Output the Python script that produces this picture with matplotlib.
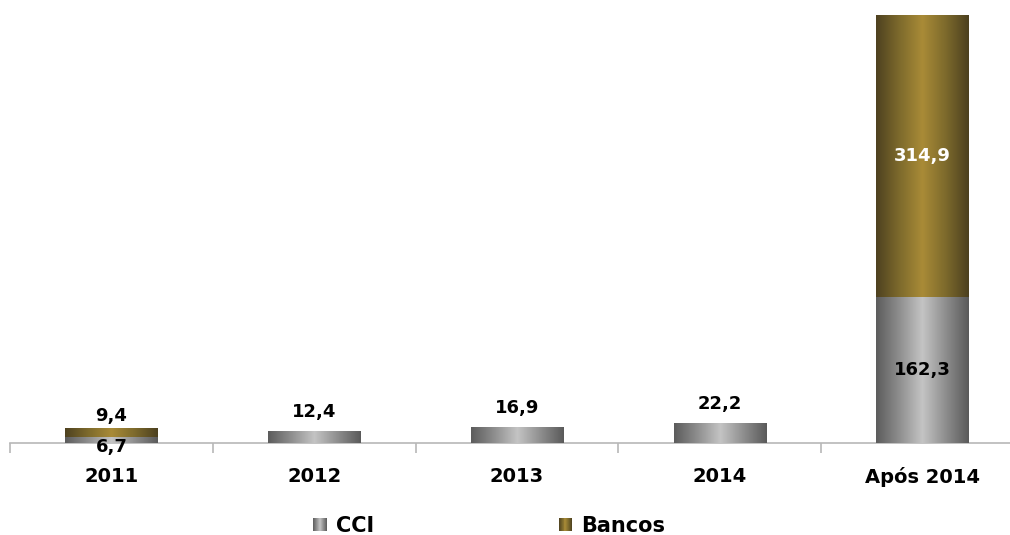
import numpy as np
import matplotlib
matplotlib.use("Agg")
import matplotlib.pyplot as plt
from matplotlib.patches import Rectangle
from matplotlib.legend_handler import HandlerBase
from matplotlib.colors import LinearSegmentedColormap

categories = ["2011", "2012", "2013", "2014", "Após 2014"]
cci = [6.7, 12.4, 16.9, 22.2, 162.3]
bancos = [9.4, 0.0, 0.0, 0.0, 314.9]
cci_labels = ["6,7", "12,4", "16,9", "22,2", "162,3"]
bancos_labels = ["9,4", "", "", "", "314,9"]

gray_cmap = LinearSegmentedColormap.from_list("g", ["#5c5c5c", "#8e8e8e", "#c4c4c4", "#8e8e8e", "#5a5a5a"])
gold_cmap = LinearSegmentedColormap.from_list("y", ["#4e4120", "#7d6a2c", "#a98b37", "#7d6a2c", "#4c401f"])

plt.rcParams['font.family'] = ['DejaVu Sans']

fig = plt.figure(figsize=(10.10, 5.35), dpi=100)
ax = fig.add_axes([10/1010, 92/535, 1014/1010, 428/535])

x = np.arange(len(categories))
w = 0.455
grad = np.linspace(0, 1, 256).reshape(1, -1)

b1 = ax.bar(x, cci, width=w, color="#a0a0a0", zorder=2)
b2 = ax.bar(x, bancos, width=w, bottom=cci, color="#8a722f", zorder=2)

for bars, cmap in ((b1, gray_cmap), (b2, gold_cmap)):
    for p in bars:
        if p.get_height() <= 0:
            continue
        x0, y0 = p.get_x(), p.get_y()
        ax.imshow(grad, cmap=cmap, extent=[x0, x0 + p.get_width(), y0, y0 + p.get_height()],
                  aspect='auto', zorder=3, interpolation='bilinear')

total_max = max(c + b for c, b in zip(cci, bancos))
ax.set_xlim(-0.5, 4.5)
ax.set_ylim(0, total_max)

# labels
fs_lab = 13
for i in range(len(categories)):
    if i == len(categories) - 1:
        ax.text(x[i], cci[i] / 2, cci_labels[i], ha='center', va='center', fontsize=fs_lab,
                fontweight='bold', color='black', zorder=5)
        ax.text(x[i], cci[i] + bancos[i] / 2, bancos_labels[i], ha='center', va='center',
                fontsize=fs_lab, fontweight='bold', color='white', zorder=5)
    elif bancos[i] > 0:
        ax.annotate(bancos_labels[i], (x[i], cci[i] + bancos[i]), xytext=(0, 9), textcoords='offset points',
                    ha='center', va='center', fontsize=fs_lab, fontweight='bold', zorder=5)
        ax.annotate(cci_labels[i], (x[i], cci[i] / 2), xytext=(0, -5), textcoords='offset points',
                    ha='center', va='center', fontsize=fs_lab, fontweight='bold', zorder=5)
    else:
        ax.annotate(cci_labels[i], (x[i], cci[i]), xytext=(0, 14), textcoords='offset points',
                    ha='center', va='center', fontsize=fs_lab, fontweight='bold', zorder=5)

for s in ['top', 'right', 'left']:
    ax.spines[s].set_visible(False)
ax.spines['bottom'].set_color('#b8b8b8')
ax.spines['bottom'].set_linewidth(1.2)
ax.set_yticks([])
ax.set_xticks(x)
ax.set_xticklabels(categories, fontsize=14, fontweight='bold')
ax.tick_params(axis='x', which='major', length=0, pad=17)
ax.set_xticks(np.arange(-0.5, 5.0, 1.0), minor=True)
ax.tick_params(axis='x', which='minor', length=7, width=1.2, color='#b8b8b8', direction='out')


class GradHandler(HandlerBase):
    def __init__(self, cmap):
        super().__init__()
        self.cmap = cmap

    def create_artists(self, legend, orig_handle, xdescent, ydescent, width, height, fontsize, trans):
        n = 14
        side = fontsize * 0.65
        x0 = -xdescent + (width - side)
        y0 = -ydescent + (height - side) / 2
        arts = []
        for k in range(n):
            c = self.cmap((k + 0.5) / n)
            arts.append(Rectangle((x0 + side * k / n, y0), side / n + 0.05, side,
                                  facecolor=c, edgecolor='none', transform=trans))
        return arts


h1 = Rectangle((0, 0), 1, 1)
h2 = Rectangle((0, 0), 1, 1)
leg = fig.legend([h1, h2], ["CCI", "Bancos"], handler_map={h1: GradHandler(gray_cmap), h2: GradHandler(gold_cmap)},
                 loc='center', bbox_to_anchor=(0.482, 0.017), ncol=2, frameon=False,
                 prop={'weight': 'bold', 'size': 15}, columnspacing=8.6, handlelength=0.9,
                 handletextpad=0.45)

fig.savefig("out.png", dpi=100)
